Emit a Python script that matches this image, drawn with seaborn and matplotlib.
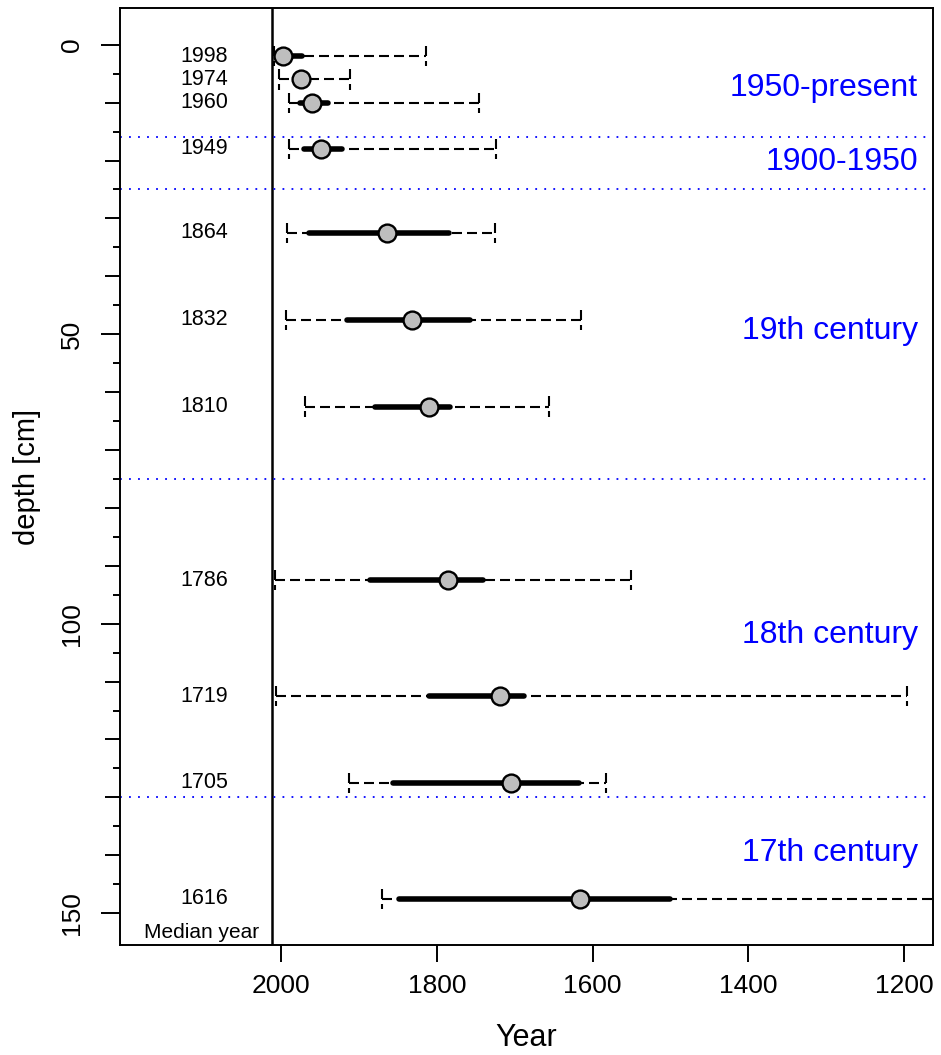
import matplotlib
matplotlib.use("Agg")
import numpy as np
import pandas as pd
import matplotlib.pyplot as plt
import seaborn as sns

# median ages and their depths
median_year = [1998, 1974, 1960, 1949, 1864, 1832, 1810, 1786, 1719, 1705, 1616]
depth_cm = [2, 6, 10, 18, 32.5, 47.5, 62.5, 92.5, 112.5, 127.5, 147.5]

# 95% range (dashed) and 68% range (thick)
lo95 = [2008.7, 2003.1, 1989.5, 1989.5, 1992.4, 1993.7, 1968.9, 2008.4, 2007.0, 1913.0, 1870.3]
hi95 = [1813.6, 1911.1, 1745.5, 1724.2, 1725.0, 1615.0, 1656.5, 1551.2, 1195.9, 1582.8, 1100.0]
lo68 = [2005.3, 1980.0, 1976.2, 1971.0, 1964.6, 1915.4, 1879.0, 1885.4, 1809.7, 1857.0, 1849.2]
hi68 = [1973.2, 1968.0, 1940.2, 1921.8, 1784.9, 1757.1, 1782.8, 1740.6, 1688.0, 1618.0, 1500.5]

sampling_year = 2012
period_bounds = [16, 25, 75, 130]
period_labels = ["1950-present", "1900-1950", "19th century", "18th century", "17th century"]
period_label_depth = [7.5, 20.3, 49.5, 101.9, 139.6]

df = pd.DataFrame({
    "median": median_year,
    "depth": depth_cm,
    "lo95": lo95,
    "hi95": hi95,
    "lo68": lo68,
    "hi68": hi68,
})

sns.set_style("ticks")
plt.rcParams["font.family"] = ["Liberation Sans", "DejaVu Sans"]
plt.rcParams["text.color"] = "black"
plt.rcParams["axes.labelcolor"] = "black"
plt.rcParams["xtick.color"] = "black"
plt.rcParams["ytick.color"] = "black"
plt.rcParams["axes.edgecolor"] = "black"

W, H = 941, 1055
fig = plt.figure(figsize=(W / 100, H / 100), dpi=100)
ax = fig.add_axes([120 / W, 1 - 945 / H, (933 - 120) / W, (945 - 8) / H])

dash = (0, (4.8, 2.4))
cap_h = 1.75

# dashed 95% ranges with dashed end caps
ax.hlines(df["depth"], df["lo95"], df["hi95"], colors="black", lw=1.5, linestyles=[dash])
for col in ["lo95", "hi95"]:
    ax.vlines(df[col], df["depth"] - cap_h, df["depth"] + cap_h,
              colors="black", lw=1.5, linestyles=[dash])

# thick 68% ranges
thick = ax.hlines(df["depth"], df["lo68"], df["hi68"], colors="black", lw=4.0)
thick.set_capstyle("round")

sns.scatterplot(data=df, x="median", y="depth", s=165, color="#bebebe",
                edgecolor="black", linewidth=1.7, zorder=5, legend=False, ax=ax)

ax.axvline(sampling_year, color="black", lw=1.8)
for d in period_bounds:
    ax.axhline(d, color="blue", lw=1.3, ls=(0, (1, 4)))

for lab, d in zip(period_labels, period_label_depth):
    ax.text(1182, d, lab, color="blue", ha="right", va="center", fontsize=23)

for yr, d in zip(df["median"], df["depth"]):
    ax.text(2068, d, str(yr), ha="right", va="center", fontsize=15.5)
ax.text(2102, 153.3, "Median year", ha="center", va="center", fontsize=15)

ax.set_xlim(2207, 1163)
ax.set_ylim(155.5, -6.35)

ax.set_xticks([2000, 1800, 1600, 1400, 1200])
ax.set_xticklabels(["2000", "1800", "1600", "1400", "1200"], fontsize=19)
ax.set_yticks([0, 50, 100, 150])
ax.set_yticklabels(["0", "50", "100", "150"], fontsize=19, rotation=90, va="center")
ax.set_yticks(np.arange(5, 155, 10), minor=True)
ax.tick_params(axis="x", length=12, width=1.4, pad=9)
ax.tick_params(axis="y", which="major", length=13.7, width=1.4, pad=12)
ax.tick_params(axis="y", which="minor", length=5, width=1.4)

mid = ax.secondary_yaxis("left")
mid.set_yticks([10, 20, 30, 40, 60, 70, 80, 90, 110, 120, 130, 140])
mid.tick_params(length=10.8, width=1.4, labelleft=False, color="black")
mid.spines["left"].set_visible(False)

for s in ax.spines.values():
    s.set_linewidth(1.4)

ax.set_xlabel("Year", fontsize=22, labelpad=18)
ax.set_ylabel("depth [cm]", fontsize=21, labelpad=14)

fig.savefig("out.png", dpi=100)
